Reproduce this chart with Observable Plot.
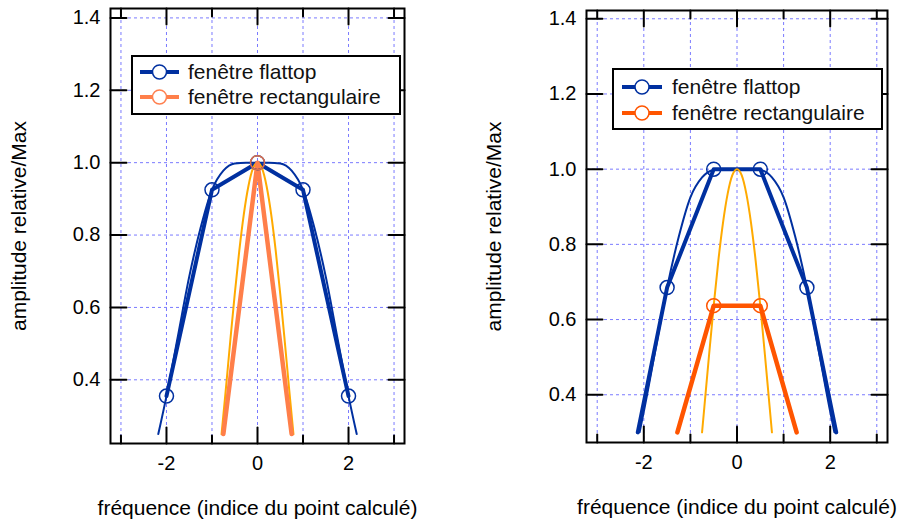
<!DOCTYPE html>
<html>
<head>
<meta charset="utf-8">
<script src="https://cdn.jsdelivr.net/npm/d3@7"></script>
<script src="https://cdn.jsdelivr.net/npm/@observablehq/plot@0.6"></script>
<style>
  body { margin: 0; background: #fff; font-family: "Liberation Sans", Arial, sans-serif; }
  #wrap { position: relative; width: 906px; height: 525px; overflow: hidden; }
  .panel { position: absolute; top: 0; }
  .legend { position: absolute; border: 2px solid #000; background: #fff; box-sizing: border-box; }
  .legend span { position: absolute; font-size: 21px; line-height: 24px; white-space: nowrap; color: #111; }
  .legend svg { position: absolute; overflow: visible; }
</style>
</head>
<body>
<div id="wrap"></div>
<script>
// ---------- shared axis values ----------
const xTicksMajor = [-2, 0, 2];
const xTicksMinor = [-3, -1, 1, 3];
const xGridValues = [-3, -2, -1, 0, 1, 2, 3];
const yTickValues = [0.4, 0.6, 0.8, 1.0, 1.2, 1.4];
const legendLabels = ["fenêtre flattop", "fenêtre rectangulaire"];
const xTitle = "fréquence (indice du point calculé)";
const yTitle = "amplitude relative/Max";

// ---------- left panel (signal exactly on a bin) ----------
const leftFlatSampleX = [-2, -1, 0, 1, 2];
const leftFlatSampleY = [0.355, 0.925, 1.0, 0.925, 0.355];
const leftRectSampleX = [0];
const leftRectSampleY = [1.0];
const leftRectLineX = [-0.75, 0, 0.75];
const leftRectLineY = [0.25, 1.0, 0.25];
const leftFlatCurveX = [-2.18, -2, -1.75, -1.5, -1.25, -1, -0.75, -0.5, -0.25, 0, 0.25, 0.5, 0.75, 1, 1.25, 1.5, 1.75, 2, 2.18];
const leftFlatCurveY = [0.25, 0.355, 0.52, 0.685, 0.82, 0.925, 0.978, 0.998, 1.0, 1.0, 1.0, 0.998, 0.978, 0.925, 0.82, 0.685, 0.52, 0.355, 0.25];
const leftSincX = [-0.79, -0.7, -0.6, -0.5, -0.4, -0.3, -0.2, -0.1, 0, 0.1, 0.2, 0.3, 0.4, 0.5, 0.6, 0.7, 0.79];
const leftSincY = [0.25, 0.368, 0.505, 0.637, 0.757, 0.858, 0.935, 0.984, 1.0, 0.984, 0.935, 0.858, 0.757, 0.637, 0.505, 0.368, 0.25];

// ---------- right panel (signal between two bins) ----------
const rightFlatSampleX = [-1.5, -0.5, 0.5, 1.5];
const rightFlatSampleY = [0.685, 1.0, 1.0, 0.685];
const rightFlatLineX = [-2.13, -1.5, -0.5, 0.5, 1.5, 2.13];
const rightFlatLineY = [0.30, 0.685, 1.0, 1.0, 0.685, 0.30];
const rightRectSampleX = [-0.5, 0.5];
const rightRectSampleY = [0.637, 0.637];
const rightRectLineX = [-1.28, -0.5, 0.5, 1.28];
const rightRectLineY = [0.30, 0.637, 0.637, 0.30];
const rightFlatCurveX = [-2.09, -2, -1.75, -1.5, -1.25, -1, -0.75, -0.5, -0.25, 0, 0.25, 0.5, 0.75, 1, 1.25, 1.5, 1.75, 2, 2.09];
const rightFlatCurveY = [0.30, 0.355, 0.52, 0.685, 0.82, 0.925, 0.978, 0.998, 1.0, 1.0, 1.0, 0.998, 0.978, 0.925, 0.82, 0.685, 0.52, 0.355, 0.30];
const rightSincX = [-0.75, -0.7, -0.6, -0.5, -0.4, -0.3, -0.2, -0.1, 0, 0.1, 0.2, 0.3, 0.4, 0.5, 0.6, 0.7, 0.75];
const rightSincY = [0.30, 0.368, 0.505, 0.637, 0.757, 0.858, 0.935, 0.984, 1.0, 0.984, 0.935, 0.858, 0.757, 0.637, 0.505, 0.368, 0.30];

// ---------- styles ----------
const BLUE = "#0030a0";
const SINC = "#ffaa00";
const GRID = "#7a7aff";
const font = '"Liberation Sans", Arial, sans-serif';

const pts = (xs, ys) => xs.map((x, i) => ({x, y: ys[i]}));
const tickShape = {draw(context, l) { context.moveTo(0, 0); context.lineTo(0, -l); }};
const tickStyle = {anchor: "start", shape: tickShape, stroke: "#000", strokeWidth: 2};

function panel(cfg) {
  const {flatCurve, flatLine, sinc, rectLine, flatSamples, rectSamples, rectColor, rectDotColor,
         yDomain, margins, titleDx} = cfg;
  return Plot.plot({
    width: 453, height: 525,
    marginLeft: margins[0], marginRight: margins[1], marginTop: margins[2], marginBottom: margins[3],
    style: {fontFamily: font, fontSize: "20px", color: "#000", background: "transparent", overflow: "visible"},
    x: {domain: [-3.23, 3.23]},
    y: {domain: yDomain},
    marks: [
      Plot.gridX(xGridValues, {stroke: GRID, strokeOpacity: 1, strokeWidth: 1, strokeDasharray: "3,3"}),
      Plot.gridY(yTickValues, {stroke: GRID, strokeOpacity: 1, strokeWidth: 1, strokeDasharray: "3,3"}),
      Plot.line(flatCurve, {x: "x", y: "y", stroke: BLUE, strokeWidth: 2, curve: "monotone-x"}),
      Plot.line(flatLine, {x: "x", y: "y", stroke: BLUE, strokeWidth: 4}),
      Plot.line(sinc, {x: "x", y: "y", stroke: SINC, strokeWidth: 2, curve: "monotone-x"}),
      Plot.line(rectLine, {x: "x", y: "y", stroke: rectColor, strokeWidth: 4.5}),
      Plot.dot(flatSamples, {x: "x", y: "y", r: 7, stroke: BLUE, strokeWidth: 1.5, fill: "none"}),
      Plot.dot(rectSamples, {x: "x", y: "y", r: 7, stroke: rectDotColor, strokeWidth: 1.5, fill: "none"}),
      Plot.frame({stroke: "#000", strokeWidth: 2}),
      // inward ticks on all four sides
      Plot.vector(xTicksMajor, {x: d => d, frameAnchor: "bottom", rotate: 0, length: 16, ...tickStyle}),
      Plot.vector(xTicksMinor, {x: d => d, frameAnchor: "bottom", rotate: 0, length: 8, ...tickStyle}),
      Plot.vector(xTicksMajor, {x: d => d, frameAnchor: "top", rotate: 180, length: 16, ...tickStyle}),
      Plot.vector(xTicksMinor, {x: d => d, frameAnchor: "top", rotate: 180, length: 8, ...tickStyle}),
      Plot.vector(yTickValues, {y: d => d, frameAnchor: "left", rotate: 90, length: 16, ...tickStyle}),
      Plot.vector(yTickValues, {y: d => d, frameAnchor: "right", rotate: -90, length: 16, ...tickStyle}),
      // tick labels
      Plot.axisX(xTicksMajor, {anchor: "bottom", tickSize: 0, tickPadding: 12, tickFormat: d => String(d), label: null}),
      Plot.axisY(yTickValues, {anchor: "left", tickSize: 0, tickPadding: 10, tickFormat: d => d.toFixed(1), label: null}),
      // axis titles
      Plot.text([xTitle], {text: d => d, frameAnchor: "bottom", dy: 65, lineAnchor: "middle", textAnchor: "middle", fontSize: 21}),
      Plot.text([yTitle], {text: d => d, frameAnchor: "left", rotate: -90, dx: titleDx, lineAnchor: "middle", textAnchor: "middle", fontSize: 21})
    ]
  });
}

const wrap = document.getElementById("wrap");

const left = panel({
  flatCurve: pts(leftFlatCurveX, leftFlatCurveY),
  flatLine: pts(leftFlatSampleX, leftFlatSampleY),
  sinc: pts(leftSincX, leftSincY),
  rectLine: pts(leftRectLineX, leftRectLineY),
  flatSamples: pts(leftFlatSampleX, leftFlatSampleY),
  rectSamples: pts(leftRectSampleX, leftRectSampleY),
  rectColor: "#ff7f4a",
  rectDotColor: "#e0704a",
  yDomain: [0.224, 1.426],
  margins: [110, 49, 8, 82],
  titleDx: -91
});
const right = panel({
  flatCurve: pts(rightFlatCurveX, rightFlatCurveY),
  flatLine: pts(rightFlatLineX, rightFlatLineY),
  sinc: pts(rightSincX, rightSincY),
  rectLine: pts(rightRectLineX, rightRectLineY),
  flatSamples: pts(rightFlatSampleX, rightFlatSampleY),
  rectSamples: pts(rightRectSampleX, rightRectSampleY),
  rectColor: "#ff5500",
  rectDotColor: "#ff5500",
  yDomain: [0.273, 1.422],
  margins: [133, 19, 10, 83],
  titleDx: -92
});

const d1 = document.createElement("div"); d1.className = "panel"; d1.style.left = "0px"; d1.appendChild(left); wrap.appendChild(d1);
const d2 = document.createElement("div"); d2.className = "panel"; d2.style.left = "453px"; d2.appendChild(right); wrap.appendChild(d2);

// ---------- legends ----------
function legend(box, colors, dotColors) {
  const div = d3.select(wrap).append("div").attr("class", "legend")
    .style("left", box.left + "px").style("top", box.top + "px")
    .style("width", box.width + "px").style("height", box.height + "px");
  legendLabels.forEach((lab, i) => {
    const cy = box.rows[i];
    const svg = div.append("svg").attr("width", 50).attr("height", 20)
      .style("left", (box.line[0] - 2) + "px").style("top", (cy - 12) + "px");
    svg.append("line").attr("x1", 0).attr("x2", box.line[1] - box.line[0]).attr("y1", 10).attr("y2", 10)
      .attr("stroke", colors[i]).attr("stroke-width", 4);
    svg.append("circle").attr("cx", (box.line[1] - box.line[0]) / 2).attr("cy", 10).attr("r", 7)
      .attr("fill", "#fff").attr("stroke", dotColors[i]).attr("stroke-width", 1.5);
    div.append("span").text(lab).style("left", (box.text - 2) + "px").style("top", (cy - 2 - 12) + "px");
  });
}
legend({left: 131, top: 55, width: 270, height: 60, rows: [17, 42], line: [9, 48], text: 57},
       [BLUE, "#ff7f4a"], [BLUE, "#ff8050"]);
legend({left: 612, top: 68, width: 271, height: 62, rows: [19, 45], line: [10, 50], text: 60},
       [BLUE, "#ff5500"], [BLUE, "#ff5500"]);
</script>
</body>
</html>
